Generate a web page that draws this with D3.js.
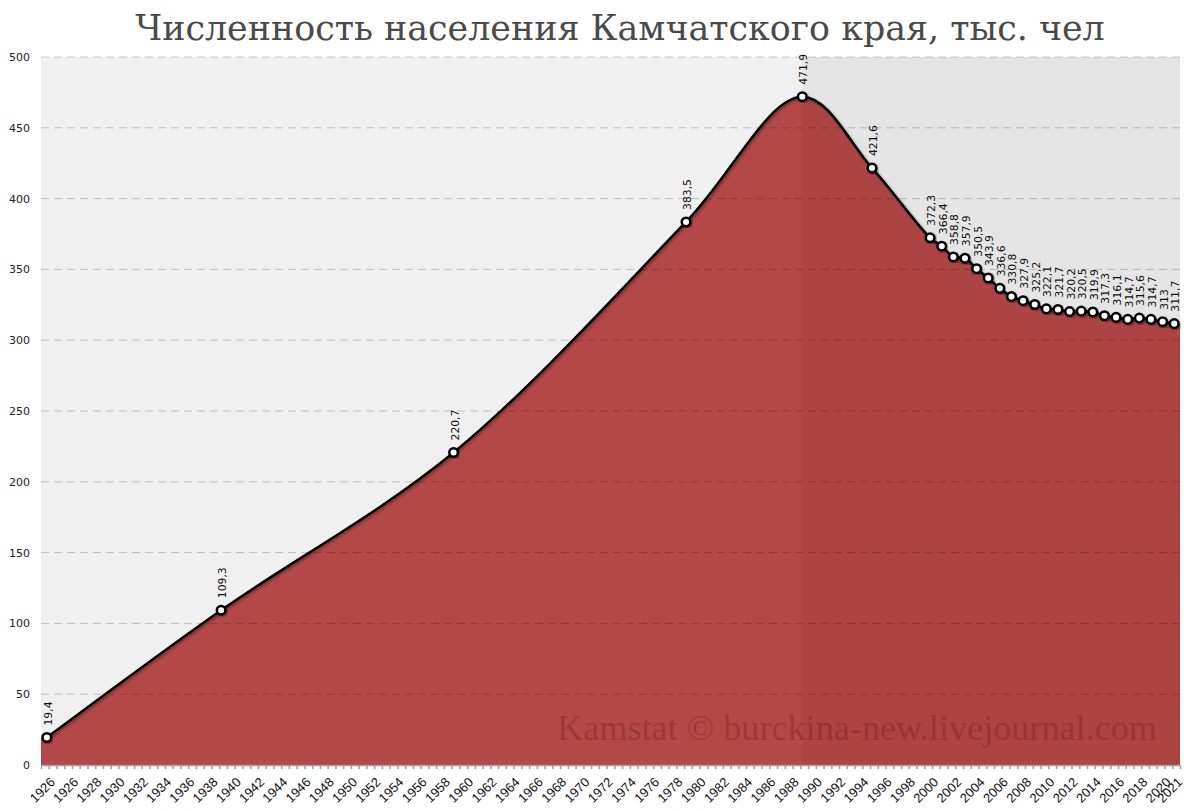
<!DOCTYPE html>
<html>
<head>
<meta charset="utf-8">
<script src="https://cdn.jsdelivr.net/npm/d3@7"></script>
<style>
  html, body { margin: 0; padding: 0; background: #ffffff; }
  svg { display: block; }
</style>
</head>
<body>
<svg id="chart" width="1200" height="811"></svg>
<script>
// ---- Data ----
// Axis category slots, one per year; the first slot carries the label "1926" (the 1926 census point)
const categories = ["1926","1925","1926","1927","1928","1929","1930","1931","1932","1933","1934","1935","1936","1937","1938","1939","1940","1941","1942","1943","1944","1945","1946","1947","1948","1949","1950","1951","1952","1953","1954","1955","1956","1957","1958","1959","1960","1961","1962","1963","1964","1965","1966","1967","1968","1969","1970","1971","1972","1973","1974","1975","1976","1977","1978","1979","1980","1981","1982","1983","1984","1985","1986","1987","1988","1989","1990","1991","1992","1993","1994","1995","1996","1997","1998","1999","2000","2001","2002","2003","2004","2005","2006","2007","2008","2009","2010","2011","2012","2013","2014","2015","2016","2017","2018","2019","2020","2021"];
const years = ["1926","1939","1959","1979","1989","1995","2000","2001","2002","2003","2004","2005","2006","2007","2008","2009","2010","2011","2012","2013","2014","2015","2016","2017","2018","2019","2020","2021"];
const population = [19.4,109.3,220.7,383.5,471.9,421.6,372.3,366.4,358.8,357.9,350.5,343.9,336.6,330.8,327.9,325.2,322.1,321.7,320.2,320.5,319.9,317.3,316.1,314.7,315.6,314.7,313,311.7];
const yTicks = [0,50,100,150,200,250,300,350,400,450,500];
const shadeFrom = "1989";
const title = "Численность населения Камчатского края, тыс. чел";
const watermark = "Kamstat © burckina-new.livejournal.com";

// ---- Layout ----
const svg = d3.select("#chart");
const plot = { left: 41, right: 1180, top: 57, bottom: 765 };

const slotIdx = categories.map((c, i) => i);
const x = d3.scaleBand().domain(slotIdx).range([plot.left, plot.right]).padding(0);
const xc = i => x(i) + x.bandwidth() / 2;
const y = d3.scaleLinear().domain([0, 500]).range([plot.bottom, plot.top]);

const data = years.map((yr, k) => ({ slot: categories.indexOf(yr), v: population[k] }));

const defs = svg.append("defs");
const sh = defs.append("filter").attr("id", "shadow").attr("x", "-20%").attr("y", "-20%").attr("width", "140%").attr("height", "140%");
sh.append("feDropShadow").attr("dx", 1.5).attr("dy", 1.5).attr("stdDeviation", 1.2).attr("flood-color", "#000").attr("flood-opacity", 0.35);

// Title
svg.append("text")
  .attr("x", 620).attr("y", 40)
  .attr("text-anchor", "middle")
  .attr("font-family", "'DejaVu Serif', 'Liberation Serif', serif")
  .attr("font-size", 36)
  .attr("fill", "#4a4a4a")
  .attr("id", "title")
  .text(title);
const tt = document.getElementById("title");
const tw = tt.getComputedTextLength();
tt.setAttribute("font-size", 36 * 970 / tw);

// Plot background
svg.append("rect")
  .attr("x", plot.left).attr("y", plot.top)
  .attr("width", plot.right - plot.left).attr("height", plot.bottom - plot.top)
  .attr("fill", "#f0f0f0");

// Area
const area = d3.area()
  .x(d => xc(d.slot))
  .y0(y(0))
  .y1(d => y(d.v))
  .curve(d3.curveCatmullRom.alpha(0.5));
const line = d3.line()
  .x(d => xc(d.slot))
  .y(d => y(d.v))
  .curve(d3.curveCatmullRom.alpha(0.5));

const red = "#b44848";
svg.append("path").datum(data).attr("d", area).attr("fill", red);
// fill the edges of the plot area beyond the first/last point
const first = data[0], last = data[data.length - 1];
svg.append("rect").attr("x", plot.left).attr("y", y(first.v))
  .attr("width", xc(first.slot) - plot.left + 0.5).attr("height", y(0) - y(first.v)).attr("fill", red);
svg.append("rect").attr("x", xc(last.slot) - 0.5).attr("y", y(last.v))
  .attr("width", plot.right - xc(last.slot) + 0.5).attr("height", y(0) - y(last.v)).attr("fill", red);

// Shaded (darker) period
const sx = xc(categories.indexOf(shadeFrom));
svg.append("rect")
  .attr("x", sx).attr("y", plot.top)
  .attr("width", plot.right - sx).attr("height", plot.bottom - plot.top)
  .attr("fill", "#000").attr("fill-opacity", 0.045);

// Gridlines
svg.append("g").selectAll("line").data(yTicks.filter(t => t > 0)).join("line")
  .attr("x1", plot.left).attr("x2", plot.right)
  .attr("y1", d => y(d)).attr("y2", d => y(d))
  .attr("stroke", "#000").attr("stroke-opacity", 0.2)
  .attr("stroke-width", 1).attr("stroke-dasharray", "8,5");

// Y axis labels
const yAxis = d3.axisLeft(y).tickValues(yTicks).tickSize(0).tickPadding(0);
const gy = svg.append("g").attr("transform", `translate(${plot.left - 11},0)`).call(yAxis);
gy.select(".domain").remove();
gy.selectAll("text").attr("font-family", "'DejaVu Sans', sans-serif").attr("font-size", 11).attr("fill", "#222");

// X axis line + minor ticks
const xs = d3.scaleLinear().domain([-0.5, categories.length - 0.5]).range([plot.left, plot.right]);
const minorTicks = d3.range(-0.5, categories.length - 0.5 + 1e-6, 2 / 3);
const gx = svg.append("g").attr("transform", `translate(0,${plot.bottom})`)
  .call(d3.axisBottom(xs).tickValues(minorTicks).tickSize(4).tickFormat(""));
gx.select(".domain").attr("stroke", "#a0a0a0").attr("stroke-width", 1.5).attr("d", `M${plot.left},0.5H${plot.right}`);
gx.selectAll(".tick line").attr("stroke", "#a0a0a0").attr("stroke-width", 1.5);

// X labels
const labelSlots = slotIdx.filter(i => i % 2 === 0 || i === categories.length - 1);
svg.append("g").selectAll("text").data(labelSlots).join("text")
  .attr("transform", i => `translate(${xc(i) + 9},${plot.bottom + 18}) rotate(-45)`)
  .attr("text-anchor", "end")
  .attr("font-family", "'Liberation Sans', Arial, sans-serif")
  .attr("font-size", 13)
  .attr("fill", "#111")
  .text(i => categories[i]);

// Watermark
svg.append("text")
  .attr("x", 1157).attr("y", 740)
  .attr("text-anchor", "end")
  .attr("font-family", "'Liberation Serif', 'DejaVu Serif', serif")
  .attr("font-size", 28)
  .attr("fill", "#6b1f1f").attr("fill-opacity", 0.35)
  .attr("id", "wm")
  .text(watermark);
const wm = document.getElementById("wm");
wm.setAttribute("font-size", 28 * 600 / wm.getComputedTextLength());

// Line
svg.append("path").datum(data).attr("d", line)
  .attr("fill", "none").attr("stroke", "#000").attr("stroke-width", 2.5)
  .attr("filter", "url(#shadow)");

// Markers
svg.append("g").selectAll("circle").data(data).join("circle")
  .attr("cx", d => xc(d.slot)).attr("cy", d => y(d.v))
  .attr("r", 4.3)
  .attr("fill", "#fff").attr("stroke", "#000").attr("stroke-width", 2.5)
  .attr("filter", "url(#shadow)");

// Data labels
const fmt = v => String(v).replace(".", ",");
svg.append("g").selectAll("text").data(data).join("text")
  .attr("transform", d => `translate(${xc(d.slot) + 5},${y(d.v) - 12}) rotate(-90)`)
  .attr("text-anchor", "start")
  .attr("font-family", "'DejaVu Sans', sans-serif")
  .attr("font-size", 10.8)
  .attr("fill", "#111")
  .text(d => fmt(d.v));
</script>
</body>
</html>
